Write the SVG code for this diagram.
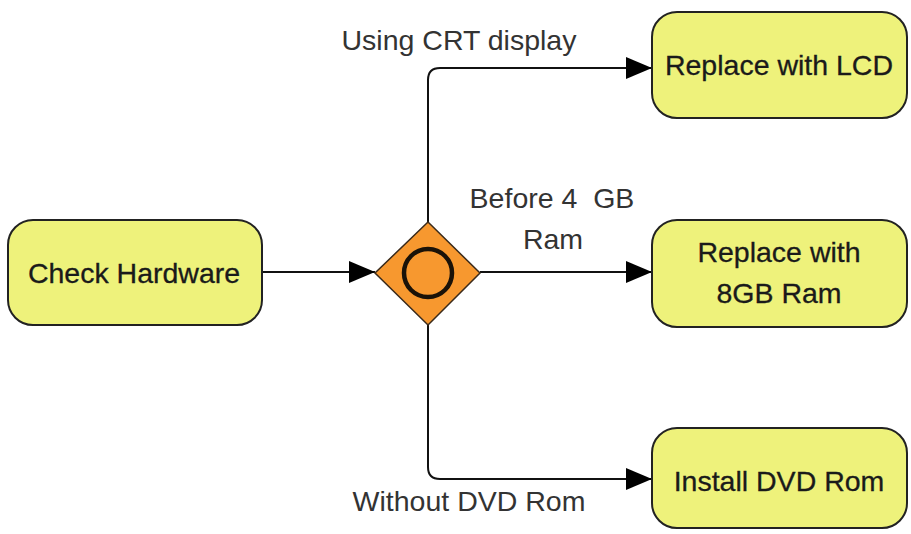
<svg xmlns="http://www.w3.org/2000/svg" width="911" height="534" viewBox="0 0 911 534">
  <defs>
    <style>
      .task { fill: #eef27b; stroke: #222222; stroke-width: 2; }
      .task-text { font-family: "Liberation Sans", Arial, sans-serif; font-size: 28.5px; fill: #1a1a1a; text-anchor: middle; stroke: #1a1a1a; stroke-width: 0.3; }
      .label { font-family: "Liberation Sans", Arial, sans-serif; font-size: 28.5px; fill: #333333; text-anchor: middle; white-space: pre; }
      .flow { fill: none; stroke: #111111; stroke-width: 2; }
      .gateway { fill: #f7982f; stroke: #3a2a1a; stroke-width: 1.5; }
      .gateway-ring { fill: #f7982f; stroke: #1a1208; stroke-width: 4.5; }
    </style>
    <marker id="arrow" viewBox="0 0 26 22" refX="26" refY="11" markerWidth="26" markerHeight="22" markerUnits="userSpaceOnUse" orient="auto">
      <path d="M0,0 L26,11 L0,22 Z" fill="#000000"/>
    </marker>
  </defs>

  <rect width="911" height="534" fill="#ffffff"/>

  <!-- sequence flows -->
  <g id="connectors">
    <path class="flow" d="M262,272 L375,272" marker-end="url(#arrow)"/>
    <path class="flow" d="M428,222 L428,80 Q428,68 440,68 L652,68" marker-end="url(#arrow)"/>
    <path class="flow" d="M480,272 L652,272" marker-end="url(#arrow)"/>
    <path class="flow" d="M428,325 L428,467 Q428,479 440,479 L652,479" marker-end="url(#arrow)"/>
  </g>

  <!-- flow labels -->
  <g id="labels">
    <text class="label" x="459" y="50">Using CRT display</text>
    <text class="label" x="552" y="208" xml:space="preserve">Before 4  GB</text>
    <text class="label" x="553" y="249">Ram</text>
    <text class="label" x="469" y="511">Without DVD Rom</text>
  </g>

  <g id="check-hardware">
    <rect class="task" x="8" y="220" width="254" height="105" rx="25" ry="25"/>
    <text class="task-text" x="134" y="283">Check Hardware</text>
  </g>

  <g id="gateway">
    <polygon class="gateway" points="428,222 480,273 428,325 375,273"/>
    <circle class="gateway-ring" cx="428" cy="273" r="24"/>
  </g>

  <g id="replace-lcd">
    <rect class="task" x="652" y="12" width="255" height="106" rx="25" ry="25"/>
    <text class="task-text" x="779" y="75">Replace with LCD</text>
  </g>

  <g id="replace-ram">
    <rect class="task" x="652" y="220" width="255" height="107" rx="25" ry="25"/>
    <text class="task-text" x="779" y="262">Replace with</text>
    <text class="task-text" x="779" y="303">8GB Ram</text>
  </g>

  <g id="install-dvd">
    <rect class="task" x="652" y="428" width="255" height="100" rx="25" ry="25"/>
    <text class="task-text" x="779" y="491">Install DVD Rom</text>
  </g>
</svg>
